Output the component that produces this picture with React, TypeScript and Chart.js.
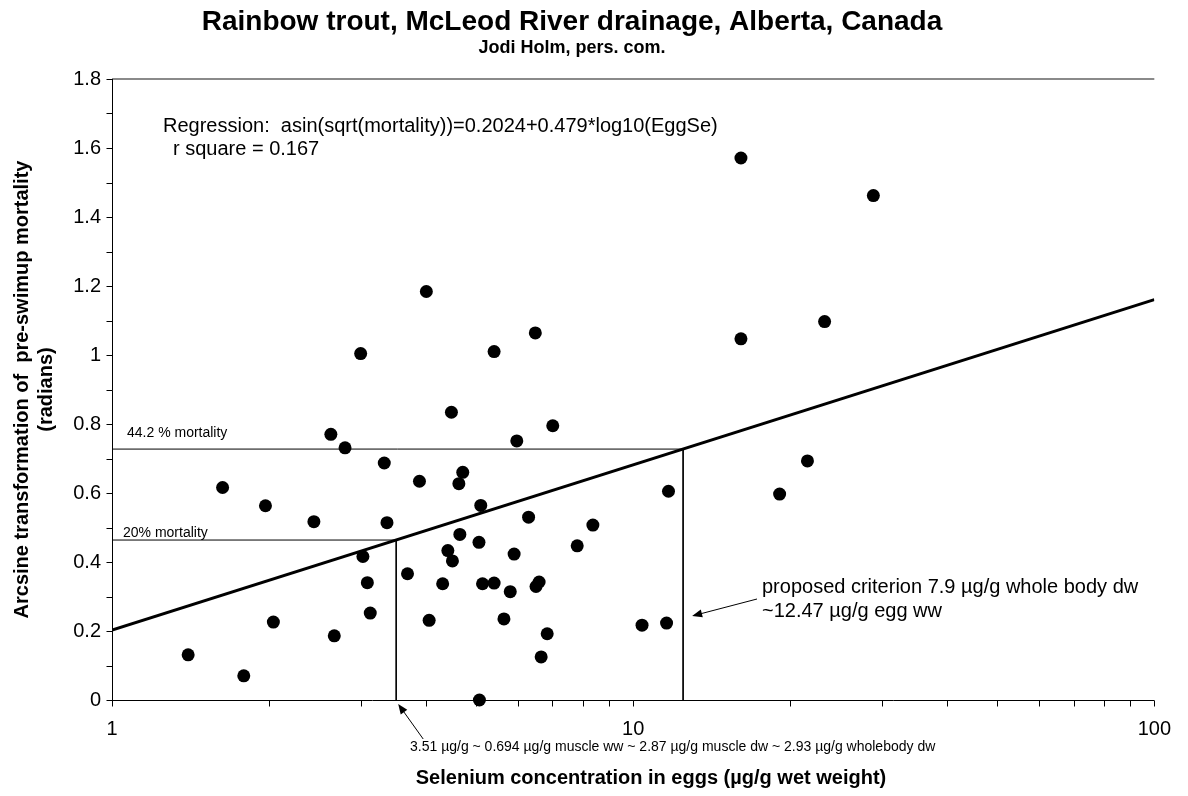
import React, { useEffect, useRef } from "react";
import { Chart, registerables } from "chart.js";

Chart.register(...registerables);

// Selenium in eggs (µg/g wet weight) and arcsine-transformed pre-swimup mortality (radians)
const eggSe = [
  1.4, 1.63, 1.79, 1.97, 2.04, 2.44, 2.63, 2.67, 2.8, 3.0, 3.03, 3.09, 3.13, 3.33, 3.37,
  3.69, 3.89, 4.01, 4.06, 4.31, 4.41, 4.48, 4.5, 4.63, 4.65, 4.71, 5.06, 5.07, 5.1, 5.14,
  5.41, 5.41, 5.65, 5.81, 5.91, 5.98, 6.3, 6.49, 6.51, 6.6, 6.66, 6.84, 7.01, 7.81, 8.37,
  10.4, 11.59, 11.69, 16.1, 16.1, 19.1, 21.6, 23.3, 28.9,
];
const arcsineMortality = [
  0.131, 0.616, 0.07, 0.563, 0.226, 0.517, 0.77, 0.186, 0.731, 1.004, 0.416, 0.34, 0.252, 0.687, 0.514,
  0.366, 0.634, 1.184, 0.231, 0.337, 0.433, 0.834, 0.403, 0.627, 0.48, 0.66, 0.457, 0.0, 0.564, 0.337,
  1.01, 0.339, 0.235, 0.314, 0.423, 0.751, 0.53, 1.064, 0.329, 0.342, 0.125, 0.192, 0.795, 0.447, 0.507,
  0.217, 0.223, 0.605, 1.047, 1.571, 0.597, 0.693, 1.097, 1.462,
];

// Fitted regression: asin(sqrt(mortality)) = a + b * log10(EggSe)
const regressionIntercept = 0.2024;
const regressionSlope = 0.479;
const rSquare = 0.167;

// Mortality reference levels and the egg Se values where the fit reaches them
const mortalityLevels = [0.442, 0.2];
const mortalityLabels = ["44.2 % mortality", "20% mortality"];
const eggSeAtLevel = [12.47, 3.51];

const xTickValues = [1, 10, 100];
const xMin = 1;
const xMax = 100;
const yMin = 0;
const yMax = 1.8;
const yStep = 0.2;
const yMinorStep = 0.1;

const titleText = "Rainbow trout, McLeod River drainage, Alberta, Canada";
const subtitleText = "Jodi Holm, pers. com.";
const xTitle = "Selenium concentration in eggs (µg/g wet weight)";
const yTitleLines = ["Arcsine transformation of  pre-swimup mortality", "(radians)"];
const regressionLine1 = `Regression:  asin(sqrt(mortality))=${regressionIntercept}+${regressionSlope}*log10(EggSe)`;
const regressionLine2 = `r square = ${rSquare}`;
const criterionLines = ["proposed criterion 7.9 µg/g whole body dw", `~${eggSeAtLevel[0]} µg/g egg ww`];
const lowNote = `${eggSeAtLevel[1]} µg/g ~ 0.694 µg/g muscle ww ~ 2.87 µg/g muscle dw ~ 2.93 µg/g wholebody dw`;

const FONT = "'Liberation Sans', Arial, Helvetica, sans-serif";

const fit = (x: number) => regressionIntercept + regressionSlope * Math.log10(x);

function arrow(ctx: CanvasRenderingContext2D, x0: number, y0: number, x1: number, y1: number) {
  // line from (x0,y0) ending in a filled head at (x1,y1)
  const ang = Math.atan2(y1 - y0, x1 - x0);
  const len = 10;
  const half = 4;
  ctx.beginPath();
  ctx.moveTo(x0, y0);
  ctx.lineTo(x1 - Math.cos(ang) * len * 0.6, y1 - Math.sin(ang) * len * 0.6);
  ctx.stroke();
  ctx.beginPath();
  ctx.moveTo(x1, y1);
  ctx.lineTo(
    x1 - Math.cos(ang) * len - Math.sin(ang) * half,
    y1 - Math.sin(ang) * len + Math.cos(ang) * half
  );
  ctx.lineTo(
    x1 - Math.cos(ang) * len + Math.sin(ang) * half,
    y1 - Math.sin(ang) * len - Math.cos(ang) * half
  );
  ctx.closePath();
  ctx.fill();
}

const frame = {
  id: "frame",
  beforeDatasetsDraw(chart: any) {
    const { ctx, chartArea: a, scales } = chart;
    const xs = scales.x;
    const ys = scales.y;
    ctx.save();
    // top border of plot area
    ctx.strokeStyle = "#8a8a8a";
    ctx.lineWidth = 2;
    ctx.beginPath();
    ctx.moveTo(a.left, Math.round(a.top));
    ctx.lineTo(a.right, Math.round(a.top));
    ctx.stroke();

    ctx.strokeStyle = "#000";
    ctx.lineWidth = 1;
    const y0 = Math.round(ys.getPixelForValue(yMin)) + 0.5;
    const xl = Math.round(a.left) + 0.5;
    ctx.beginPath();
    ctx.moveTo(xl, a.top);
    ctx.lineTo(xl, y0 + 2);
    ctx.moveTo(a.left, y0);
    ctx.lineTo(a.right, y0);
    ctx.stroke();

    // x tick marks (decades and minor 2..9)
    ctx.beginPath();
    for (let d = xMin; d <= xMax; d *= 10) {
      for (let k = 1; k <= 9; k++) {
        const v = d * k;
        if (v > xMax) break;
        const px = Math.round(xs.getPixelForValue(v)) + 0.5;
        ctx.moveTo(px, y0);
        ctx.lineTo(px, y0 + 6);
      }
    }
    // y tick marks every 0.1
    const n = Math.round((yMax - yMin) / yMinorStep);
    for (let i = 0; i <= n; i++) {
      const py = Math.round(ys.getPixelForValue(yMin + i * yMinorStep)) + 0.5;
      ctx.moveTo(xl - 6, py);
      ctx.lineTo(xl, py);
    }
    ctx.stroke();
    ctx.restore();
  },
  afterDraw(chart: any) {
    const { ctx, chartArea: a, scales } = chart;
    const xs = scales.x;
    const ys = scales.y;
    ctx.save();
    ctx.fillStyle = "#000";
    ctx.strokeStyle = "#000";

    // titles
    ctx.textAlign = "center";
    ctx.textBaseline = "alphabetic";
    ctx.font = `bold 28px ${FONT}`;
    ctx.fillText(titleText, 572, 30);
    ctx.font = `bold 18px ${FONT}`;
    ctx.fillText(subtitleText, 572, 53);
    ctx.font = `bold 20px ${FONT}`;
    ctx.fillText(xTitle, 651, 784);

    // y axis title
    ctx.save();
    ctx.translate(0, (a.top + a.bottom) / 2);
    ctx.rotate(-Math.PI / 2);
    ctx.textBaseline = "middle";
    ctx.fillText(yTitleLines[0], 0, 22);
    ctx.fillText(yTitleLines[1], 0, 46);
    ctx.restore();

    // regression text
    ctx.textAlign = "left";
    ctx.font = `20px ${FONT}`;
    ctx.fillText(regressionLine1, 163, 132);
    ctx.fillText(regressionLine2, 173, 155);

    // mortality labels
    ctx.font = `14px ${FONT}`;
    const yHi = ys.getPixelForValue(Math.asin(Math.sqrt(mortalityLevels[0])));
    const yLo = ys.getPixelForValue(Math.asin(Math.sqrt(mortalityLevels[1])));
    ctx.fillText(mortalityLabels[0], 127, yHi - 12);
    ctx.fillText(mortalityLabels[1], 123, yLo - 3);

    // criterion note and arrow
    ctx.font = `20px ${FONT}`;
    ctx.fillText(criterionLines[0], 762, 593);
    ctx.fillText(criterionLines[1], 762, 617);
    ctx.lineWidth = 1;
    const xc = xs.getPixelForValue(eggSeAtLevel[0]);
    arrow(ctx, 757, 599, xc + 9, 616);

    // low threshold note and arrow
    ctx.font = `14px ${FONT}`;
    ctx.fillText(lowNote, 410, 751);
    const xlow = xs.getPixelForValue(eggSeAtLevel[1]);
    arrow(ctx, xlow + 27, 739, xlow + 2, 704);

    ctx.restore();
  },
};

export default function App() {
  const canvasRef = useRef<HTMLCanvasElement | null>(null);

  useEffect(() => {
    const canvas = canvasRef.current;
    if (!canvas) return;

    const points = eggSe.map((x, i) => ({ x, y: arcsineMortality[i] }));
    const fitLine = [
      { x: xMin, y: fit(xMin) },
      { x: xMax, y: fit(xMax) },
    ];
    const levelLines = mortalityLevels.map((m, i) => {
      const yv = Math.asin(Math.sqrt(m));
      return [
        { x: xMin, y: yv },
        { x: eggSeAtLevel[i], y: yv },
        { x: eggSeAtLevel[i], y: yMin },
      ];
    });

    const chart = new Chart(canvas, {
      type: "scatter",
      data: {
        datasets: [
          {
            label: "Egg Se vs mortality",
            data: points,
            backgroundColor: "#000",
            borderColor: "#000",
            pointRadius: 6.5,
            pointHoverRadius: 6.5,
            borderWidth: 0,
            clip: false,
            order: 0,
          } as any,
          {
            label: "Regression",
            type: "line",
            data: fitLine,
            borderColor: "#000",
            borderWidth: 3,
            pointRadius: 0,
            fill: false,
            order: 1,
          } as any,
          ...levelLines.map((d, i) => ({
            label: mortalityLabels[i],
            type: "line",
            data: d,
            borderColor: "#000",
            borderWidth: 1,
            pointRadius: 0,
            fill: false,
            tension: 0,
            order: 2,
          })) as any,
        ],
      },
      options: {
        responsive: false,
        animation: false,
        events: [],
        layout: { padding: { top: 79, right: 22, left: 0, bottom: 0 } },
        plugins: {
          legend: { display: false },
          tooltip: { enabled: false },
          title: { display: false },
        },
        scales: {
          x: {
            type: "logarithmic",
            min: xMin,
            max: xMax,
            grid: { display: false, drawTicks: false },
            border: { display: false },
            afterBuildTicks: (scale: any) => {
              scale.ticks = xTickValues.map((v) => ({ value: v }));
            },
            afterFit: (scale: any) => {
              scale.height = 96;
            },
            ticks: {
              color: "#000",
              font: { family: FONT, size: 20 },
              padding: 17,
              maxRotation: 0,
              autoSkip: false,
              callback: (v: any) => String(v),
            },
          },
          y: {
            type: "linear",
            min: yMin,
            max: yMax,
            grid: { display: false, drawTicks: false },
            border: { display: false },
            afterFit: (scale: any) => {
              scale.width = 112;
            },
            ticks: {
              stepSize: yStep,
              color: "#000",
              font: { family: FONT, size: 20 },
              padding: 11,
              callback: (v: any) => String(Number(Number(v).toFixed(1))),
            },
          },
        },
      },
      plugins: [frame],
    });

    return () => chart.destroy();
  }, []);

  return (
    <div style={{ position: "fixed", left: 0, top: 0, width: 1188, height: 796, background: "#fff" }}>
      <canvas ref={canvasRef} width={1188} height={796} style={{ display: "block" }} />
    </div>
  );
}
